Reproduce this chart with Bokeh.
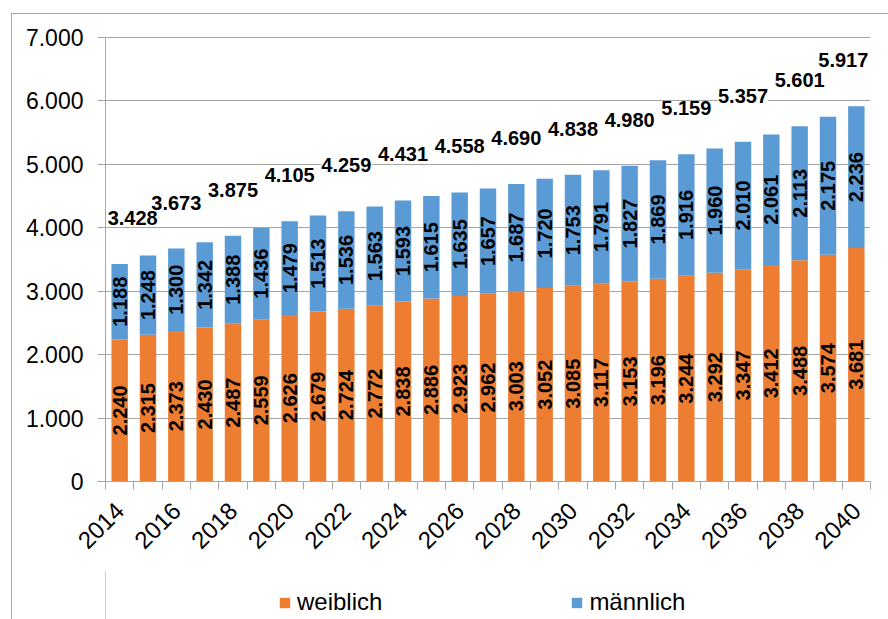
import math
from bokeh.plotting import figure
from bokeh.layouts import column
from bokeh.models import FixedTicker, Legend, LegendItem, ColumnDataSource
from bokeh.core.properties import value
from bokeh.embed import file_html
from bokeh.resources import INLINE

years = list(range(2014, 2041))
weiblich = [2240, 2315, 2373, 2430, 2487, 2559, 2626, 2679, 2724, 2772, 2838, 2886, 2923, 2962,
            3003, 3052, 3085, 3117, 3153, 3196, 3244, 3292, 3347, 3412, 3488, 3574, 3681]
maennlich = [1188, 1248, 1300, 1342, 1388, 1436, 1479, 1513, 1536, 1563, 1593, 1615, 1635, 1657,
             1687, 1720, 1753, 1791, 1827, 1869, 1916, 1960, 2010, 2061, 2113, 2175, 2236]
total_years = list(range(2014, 2041, 2))
totals = [3428, 3673, 3875, 4105, 4259, 4431, 4558, 4690, 4838, 4980, 5159, 5357, 5601, 5917]
y_ticks = [0, 1000, 2000, 3000, 4000, 5000, 6000, 7000]
y_tick_labels = ["0", "1.000", "2.000", "3.000", "4.000", "5.000", "6.000", "7.000"]
series_names = ["weiblich", "männlich"]
colors = ["#ED7D31", "#5B9BD5"]

FONT = "Liberation Sans"
GRID = "#a6a6a6"
Y_AXIS_MAX = 7000
Y_VIEW_MAX = 7300
W, H = 876, 556
BL, BR, BT, BB = 93, 18, 4, 89
FRAME_H = H - BT - BB
LABEL_LIFT = 46        # pixels between bar top and total label centre
EDGE_NUDGE = 13        # keep the outermost total labels inside the frame


def fmt(v):
    return f"{v:,}".replace(",", ".")


p = figure(width=W, height=H, output_backend="svg", toolbar_location=None,
           x_range=(years[0] - 0.5, years[-1] + 0.5), y_range=(0, Y_VIEW_MAX),
           min_border_left=BL, min_border_right=BR, min_border_top=BT, min_border_bottom=BB)
p.outline_line_color = None
p.background_fill_color = "white"
p.border_fill_color = "white"

src = ColumnDataSource(dict(
    x=years, w=weiblich, m=maennlich,
    w_mid=[v / 2 for v in weiblich],
    m_mid=[w + m / 2 for w, m in zip(weiblich, maennlich)],
    w_lab=[fmt(v) for v in weiblich], m_lab=[fmt(v) for v in maennlich],
))

p.vbar_stack(["w", "m"], x="x", width=0.58, color=colors, line_color=None, source=src)

for col, lab in (("w_mid", "w_lab"), ("m_mid", "m_lab")):
    p.text(x="x", y=col, text=lab, source=src, angle=math.pi / 2,
           text_align="center", text_baseline="middle", text_font=value(FONT),
           text_font_size="20px", text_font_style="bold", text_color="black")

ky = FRAME_H / Y_VIEW_MAX            # px per y unit
lift = LABEL_LIFT / ky
nudges = [0] * len(total_years)
nudges[0] = EDGE_NUDGE
nudges[-1] = -EDGE_NUDGE
tsrc = ColumnDataSource(dict(x=total_years, y=[t + lift for t in totals],
                             t=[fmt(v) for v in totals], dx=nudges))
p.text(x="x", y="y", text="t", source=tsrc, x_offset="dx",
       text_align="center", text_baseline="middle", text_font=value(FONT),
       text_font_size="20px", text_font_style="bold", text_color="black",
       background_fill_color="white")

# grid
p.xgrid.visible = False
p.ygrid.grid_line_color = GRID
p.ygrid.grid_line_width = 1
p.ygrid.ticker = FixedTicker(ticks=y_ticks)

# y axis
p.yaxis.ticker = FixedTicker(ticks=y_ticks)
p.yaxis.bounds = (0, Y_AXIS_MAX)
p.yaxis.major_label_overrides = {t: l for t, l in zip(y_ticks, y_tick_labels)}
p.yaxis.axis_line_color = GRID
p.yaxis.major_tick_line_color = GRID
p.yaxis.major_tick_out = 8
p.yaxis.major_tick_in = 0
p.yaxis.minor_tick_line_color = None
p.yaxis.major_label_standoff = 14
p.yaxis.major_label_text_font = FONT
p.yaxis.major_label_text_font_size = "23px"
p.yaxis.major_label_text_color = "black"

# x axis
boundaries = [y - 0.5 for y in years] + [years[-1] + 0.5]
p.xaxis.ticker = FixedTicker(ticks=total_years, minor_ticks=boundaries)
p.xaxis.axis_line_color = GRID
p.xaxis.major_tick_line_color = None
p.xaxis.major_tick_out = 0
p.xaxis.major_tick_in = 0
p.xaxis.minor_tick_line_color = GRID
p.xaxis.minor_tick_out = 8
p.xaxis.minor_tick_in = 0
p.xaxis.major_label_orientation = math.pi / 4
p.xaxis.major_label_standoff = 17
p.xaxis.major_label_text_font = FONT
p.xaxis.major_label_text_font_size = "24px"
p.xaxis.major_label_text_color = "black"

# legend strip below the chart
lg = figure(width=W, height=49, output_backend="svg", toolbar_location=None,
            x_range=(0, 1), y_range=(0, 1), x_axis_type=None, y_axis_type=None,
            min_border_left=0, min_border_right=0, min_border_top=0, min_border_bottom=0)
lg.outline_line_color = None
lg.background_fill_color = "white"
lg.border_fill_color = "white"
lg.grid.visible = False
lr = [lg.vbar(x=[-10], top=[1], width=0.5, color=c, line_color=None) for c in colors]
legend = Legend(items=[LegendItem(label=n, renderers=[rr]) for n, rr in zip(series_names, lr)],
                orientation="horizontal", location=(173, 3),
                glyph_width=13, glyph_height=13, label_standoff=6, spacing=188,
                padding=0, margin=0, label_height=28,
                border_line_color=None, background_fill_alpha=0,
                label_text_font=FONT, label_text_font_size="24px", label_text_color="black")
lg.add_layout(legend, "center")

layout = column(p, lg, spacing=0)
layout.styles = {"margin-left": "11px", "margin-top": "13px",
                 "border-left": "1px solid #a6a6a6", "border-top": "1px solid #a6a6a6"}

open("out.html", "w").write(file_html(layout, INLINE))
